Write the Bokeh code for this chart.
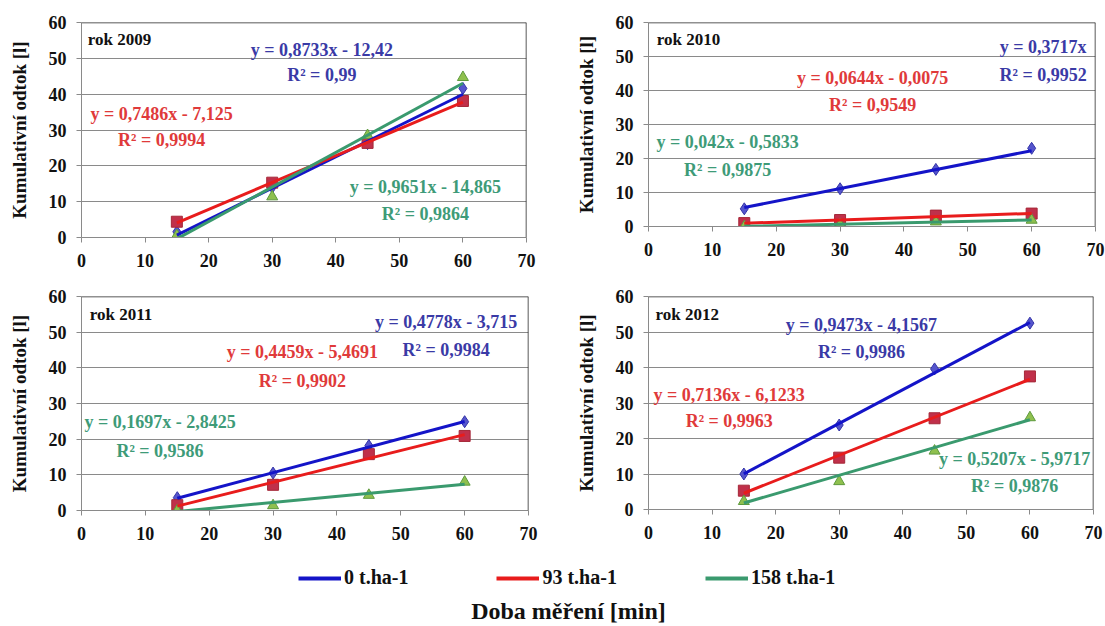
from bokeh.plotting import figure
from bokeh.layouts import column, row
from bokeh.models import Label, Span, Legend, LegendItem, FixedTicker
from bokeh.embed import file_html
from bokeh.resources import INLINE

# ---------------- data ----------------
minutes = [15, 30, 45, 60]
years = ["2009", "2010", "2011", "2012"]
series_names = ["0 t.ha-1", "93 t.ha-1", "158 t.ha-1"]

y2009_0 = [1.6, 14.0, 26.2, 41.6]
y2009_93 = [4.4, 15.3, 26.4, 38.1]
y2009_158 = [0.6, 11.4, 28.5, 44.7]

y2010_0 = [5.2, 11.1, 16.8, 23.0]
y2010_93 = [1.0, 1.9, 3.2, 3.8]
y2010_158 = [0.0, 0.6, 1.4, 1.9]

y2011_0 = [3.6, 10.5, 18.2, 24.9]
y2011_93 = [1.5, 7.2, 15.8, 20.9]
y2011_158 = [0.0, 1.4, 4.3, 8.0]

y2012_0 = [10.0, 23.8, 39.6, 52.5]
y2012_93 = [5.3, 14.6, 25.7, 37.5]
y2012_158 = [2.3, 7.9, 16.5, 25.9]

# trend line coefficients (slope, intercept) as printed
slopes_2009 = [0.8733, 0.7486, 0.9651]
inter_2009 = [-12.42, -7.125, -14.865]
slopes_2010 = [0.3717, 0.0644, 0.042]
inter_2010 = [0.0, -0.0075, -0.5833]
slopes_2011 = [0.4778, 0.4459, 0.1697]
inter_2011 = [-3.715, -5.4691, -2.8425]
slopes_2012 = [0.9473, 0.7136, 0.5207]
inter_2012 = [-4.1567, -6.1233, -5.9717]

eq_2009 = ["y = 0,8733x - 12,42", "y = 0,7486x - 7,125", "y = 0,9651x - 14,865"]
r2_2009 = ["R² = 0,99", "R² = 0,9994", "R² = 0,9864"]
eq_2010 = ["y = 0,3717x", "y = 0,0644x - 0,0075", "y = 0,042x - 0,5833"]
r2_2010 = ["R² = 0,9952", "R² = 0,9549", "R² = 0,9875"]
eq_2011 = ["y = 0,4778x - 3,715", "y = 0,4459x - 5,4691", "y = 0,1697x - 2,8425"]
r2_2011 = ["R² = 0,9984", "R² = 0,9902", "R² = 0,9586"]
eq_2012 = ["y = 0,9473x - 4,1567", "y = 0,7136x - 6,1233", "y = 0,5207x - 5,9717"]
r2_2012 = ["R² = 0,9986", "R² = 0,9963", "R² = 0,9876"]

x_ticks = [0, 10, 20, 30, 40, 50, 60, 70]
y_ticks = [0, 10, 20, 30, 40, 50, 60]

# ---------------- styles ----------------
FONT = "Times New Roman"
LINE_COLORS = ["#1414C8", "#E81C1C", "#3A9A6E"]
TEXT_COLORS = ["#3A3AA6", "#E03A3A", "#3E9B78"]
MARK_FILL = ["#5555CC", "#C0304A", "#8FC04E"]
MARK_LINE = ["#3434A8", "#A52838", "#5E9A3E"]
MARKERS = ["diamond", "square", "triangle"]
MARK_SIZE = [12, 11, 11]
GRID = "#8A8A8A"

panels = [
    dict(year="2009", ys=[y2009_0, y2009_93, y2009_158], sl=slopes_2009, ic=inter_2009,
         eq=eq_2009, r2=r2_2009,
         width=572, height=283, fw=445, fh=215, bl=81, bt=19,
         pos=[(37.8, 52.3, 45.3), (12.6, 34.6, 27.2), (54.1, 14.1, 6.5)], rok=(1.0, 55.3)),
    dict(year="2010", ys=[y2010_0, y2010_93, y2010_158], sl=slopes_2010, ic=inter_2010,
         eq=eq_2010, r2=r2_2010,
         width=533, height=283, fw=447, fh=204, bl=70, bt=22,
         pos=[(61.8, 52.7, 44.7), (35.1, 43.7, 35.6), (12.4, 24.8, 16.5)], rok=(1.3, 55.0)),
    dict(year="2011", ys=[y2011_0, y2011_93, y2011_158], sl=slopes_2011, ic=inter_2011,
         eq=eq_2011, r2=r2_2011,
         width=572, height=273, fw=447, fh=214, bl=81, bt=13,
         pos=[(57.1, 52.8, 44.9), (34.6, 44.4, 36.4), (12.3, 24.8, 16.8)], rok=(1.3, 55.0)),
    dict(year="2012", ys=[y2012_0, y2012_93, y2012_158], sl=slopes_2012, ic=inter_2012,
         eq=eq_2012, r2=r2_2012,
         width=533, height=273, fw=445, fh=213, bl=75, bt=12,
         pos=[(33.5, 52.0, 44.5), (12.7, 32.3, 24.8), (57.6, 14.2, 6.5)], rok=(1.1, 55.0)),
]

figs = []
for pd_ in panels:
    p = figure(width=pd_["width"], height=pd_["height"], x_range=(0, 70), y_range=(0, 60),
               output_backend="svg", toolbar_location=None,
               min_border_left=pd_["bl"], min_border_top=pd_["bt"],
               min_border_right=pd_["width"] - pd_["bl"] - pd_["fw"],
               min_border_bottom=pd_["height"] - pd_["bt"] - pd_["fh"])
    p.frame_width = pd_["fw"]
    p.frame_height = pd_["fh"]
    p.outline_line_color = None
    p.background_fill_color = "white"
    p.xgrid.visible = False
    p.ygrid.grid_line_color = GRID
    p.ygrid.grid_line_width = 1
    p.xaxis.ticker = FixedTicker(ticks=x_ticks)
    p.yaxis.ticker = FixedTicker(ticks=y_ticks)
    for ax in (p.xaxis[0], p.yaxis[0]):
        ax.axis_line_color = GRID
        ax.major_tick_line_color = GRID
        ax.major_tick_out = 5
        ax.major_tick_in = 0
        ax.minor_tick_line_color = None
        ax.major_label_text_font = FONT
        ax.major_label_text_font_style = "bold"
        ax.major_label_text_font_size = "18px"
        ax.major_label_text_color = "#111111"
    p.xaxis.major_label_standoff = 11
    p.yaxis.major_label_standoff = 10
    p.yaxis.axis_label = "Kumulativní odtok [l]"
    p.yaxis.axis_label_text_font = FONT
    p.yaxis.axis_label_text_font_style = "bold"
    p.yaxis.axis_label_text_font_size = "19px"
    p.yaxis.axis_label_text_color = "#111111"
    p.yaxis.axis_label_standoff = 16

    # top and right border
    p.add_layout(Span(location=60, dimension="width", line_color="#222222", line_width=1.5))
    p.add_layout(Span(location=70, dimension="height", line_color="#222222", line_width=1.5))

    # markers
    for i in range(3):
        p.scatter(minutes, pd_["ys"][i], marker=MARKERS[i], size=MARK_SIZE[i],
                  fill_color=MARK_FILL[i], line_color=MARK_LINE[i], line_width=1)
    # trend lines
    for i in range(3):
        xs = [min(minutes), max(minutes)]
        ys = [pd_["sl"][i] * xx + pd_["ic"][i] for xx in xs]
        p.line(xs, ys, line_color=LINE_COLORS[i], line_width=3)

    # equation labels
    for i in range(3):
        xx, ye, yr = pd_["pos"][i]
        for txt, yy in ((pd_["eq"][i], ye), (pd_["r2"][i], yr)):
            p.add_layout(Label(x=xx, y=yy, text=txt, text_align="center", text_baseline="middle",
                               text_font=FONT, text_font_style="bold", text_font_size="18px",
                               text_color=TEXT_COLORS[i]))
    rx, ry = pd_["rok"]
    p.add_layout(Label(x=rx, y=ry, text="rok " + pd_["year"], text_align="left", text_baseline="middle",
                       text_font=FONT, text_font_style="bold", text_font_size="17px",
                       text_color="#111111"))
    figs.append(p)

# bottom: legend + shared x title
b = figure(width=1105, height=70, x_range=(0, 1), y_range=(0, 1), output_backend="svg",
           toolbar_location=None, min_border=0)
b.axis.visible = False
b.grid.visible = False
b.outline_line_color = None
items = []
for i in range(3):
    r = b.line([-5, -4], [-5, -5], line_color=LINE_COLORS[i], line_width=4)
    items.append(LegendItem(label=series_names[i], renderers=[r]))
leg = Legend(items=items, orientation="horizontal", location=(298, 37),
             glyph_width=43, glyph_height=20, label_standoff=3, spacing=88,
             padding=0, margin=0, border_line_alpha=0, background_fill_alpha=0,
             label_text_font=FONT, label_text_font_style="bold", label_text_font_size="20px",
             label_text_color="#111111", label_height=20)
b.add_layout(leg, "center")
b.add_layout(Label(x=568, y=16, x_units="screen", y_units="screen", text="Doba měření [min]",
                   text_align="center", text_baseline="middle", text_font=FONT,
                   text_font_style="bold", text_font_size="24px", text_color="#111111"))

layout = column(row(figs[0], figs[1]), row(figs[2], figs[3]), b)
open("out.html", "w").write(file_html(layout, INLINE))
